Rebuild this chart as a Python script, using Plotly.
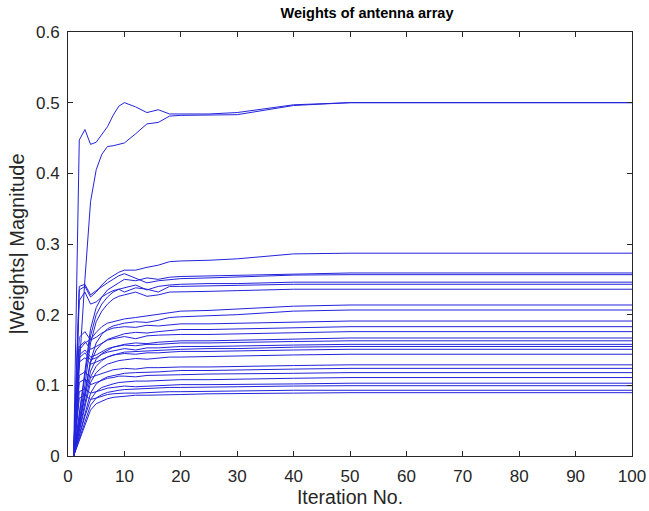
import plotly.graph_objects as go

iterations = [1, 2, 3, 4, 5, 6, 7, 8, 9, 10, 12, 14, 16, 18, 20, 25, 30, 40, 50, 100]

# |weight| magnitude of each antenna element versus iteration
w_a = [0, 0.447, 0.462, 0.441, 0.444, 0.455, 0.466, 0.482, 0.495, 0.500, 0.494, 0.486, 0.490, 0.484, 0.484, 0.484, 0.486, 0.497, 0.500, 0.500]
w_b = [0, 0.13, 0.25, 0.36, 0.405, 0.427, 0.438, 0.439, 0.441, 0.443, 0.456, 0.470, 0.472, 0.481, 0.482, 0.482, 0.483, 0.496, 0.500, 0.500]
w_c = [0, 0.235, 0.24, 0.225, 0.232, 0.242, 0.25, 0.255, 0.26, 0.263, 0.263, 0.267, 0.27, 0.275, 0.276, 0.277, 0.279, 0.286, 0.287, 0.287]
w_d = [0, 0.06, 0.12, 0.18, 0.21, 0.225, 0.235, 0.24, 0.245, 0.25, 0.248, 0.252, 0.25, 0.253, 0.254, 0.255, 0.255, 0.258, 0.259, 0.259]
w_e = [0, 0.24, 0.243, 0.228, 0.234, 0.24, 0.245, 0.25, 0.255, 0.258, 0.252, 0.245, 0.248, 0.25, 0.251, 0.252, 0.253, 0.256, 0.2566, 0.2566]
w_f = [0, 0.055, 0.11, 0.17, 0.2, 0.215, 0.225, 0.232, 0.236, 0.238, 0.242, 0.235, 0.24, 0.242, 0.243, 0.244, 0.244, 0.246, 0.246, 0.246]
w_g = [0, 0.22, 0.232, 0.215, 0.218, 0.225, 0.23, 0.234, 0.236, 0.232, 0.238, 0.236, 0.232, 0.24, 0.24, 0.241, 0.241, 0.243, 0.243, 0.243]
w_h = [0, 0.05, 0.1, 0.16, 0.19, 0.205, 0.215, 0.222, 0.226, 0.228, 0.232, 0.226, 0.228, 0.232, 0.232, 0.233, 0.234, 0.236, 0.236, 0.236]
w_i = [0, 0.15, 0.16, 0.165, 0.175, 0.183, 0.188, 0.19, 0.192, 0.194, 0.196, 0.198, 0.2, 0.203, 0.205, 0.206, 0.208, 0.212, 0.2137, 0.2137]
w_j = [0, 0.045, 0.09, 0.135, 0.16, 0.172, 0.18, 0.184, 0.186, 0.188, 0.19, 0.189, 0.192, 0.196, 0.197, 0.198, 0.2, 0.205, 0.2066, 0.2066]
w_k = [0, 0.168, 0.176, 0.164, 0.168, 0.174, 0.178, 0.181, 0.182, 0.183, 0.182, 0.185, 0.184, 0.186, 0.187, 0.187, 0.188, 0.190, 0.191, 0.191]
w_l = [0, 0.046, 0.092, 0.132, 0.15, 0.159, 0.165, 0.168, 0.171, 0.173, 0.175, 0.174, 0.176, 0.178, 0.179, 0.179, 0.18, 0.182, 0.183, 0.183]
w_m = [0, 0.155, 0.162, 0.151, 0.155, 0.16, 0.164, 0.166, 0.168, 0.169, 0.166, 0.17, 0.171, 0.172, 0.172, 0.172, 0.173, 0.175, 0.176, 0.176]
w_n = [0, 0.042, 0.084, 0.12, 0.137, 0.145, 0.15, 0.154, 0.156, 0.158, 0.16, 0.159, 0.161, 0.162, 0.163, 0.163, 0.164, 0.166, 0.167, 0.167]
w_o = [0, 0.143, 0.15, 0.14, 0.143, 0.148, 0.152, 0.154, 0.156, 0.157, 0.156, 0.158, 0.158, 0.159, 0.16, 0.16, 0.161, 0.162, 0.163, 0.163]
w_p = [0, 0.139, 0.146, 0.136, 0.139, 0.144, 0.147, 0.149, 0.151, 0.152, 0.15, 0.153, 0.153, 0.154, 0.155, 0.155, 0.156, 0.157, 0.158, 0.158]
w_q = [0, 0.039, 0.078, 0.112, 0.127, 0.135, 0.14, 0.143, 0.145, 0.147, 0.148, 0.148, 0.149, 0.15, 0.151, 0.152, 0.152, 0.154, 0.155, 0.155]
w_r = [0, 0.133, 0.139, 0.13, 0.133, 0.137, 0.14, 0.143, 0.144, 0.145, 0.144, 0.146, 0.146, 0.147, 0.148, 0.148, 0.149, 0.15, 0.151, 0.151]
w_s = [0, 0.036, 0.072, 0.104, 0.118, 0.125, 0.13, 0.133, 0.135, 0.136, 0.138, 0.137, 0.139, 0.14, 0.14, 0.141, 0.142, 0.143, 0.144, 0.144]
w_t = [0, 0.114, 0.119, 0.111, 0.114, 0.117, 0.12, 0.122, 0.123, 0.124, 0.123, 0.125, 0.125, 0.126, 0.126, 0.126, 0.127, 0.128, 0.129, 0.129]
w_u = [0, 0.031, 0.062, 0.089, 0.102, 0.108, 0.112, 0.114, 0.116, 0.117, 0.118, 0.118, 0.119, 0.12, 0.121, 0.121, 0.122, 0.123, 0.124, 0.124]
w_v = [0, 0.104, 0.109, 0.101, 0.104, 0.107, 0.11, 0.111, 0.113, 0.113, 0.112, 0.114, 0.114, 0.115, 0.115, 0.116, 0.116, 0.117, 0.118, 0.118]
w_w = [0, 0.028, 0.056, 0.08, 0.091, 0.097, 0.1, 0.102, 0.104, 0.105, 0.106, 0.106, 0.107, 0.108, 0.108, 0.108, 0.109, 0.11, 0.111, 0.111]
w_x = [0, 0.091, 0.095, 0.089, 0.091, 0.094, 0.096, 0.097, 0.098, 0.099, 0.098, 0.099, 0.1, 0.1, 0.101, 0.101, 0.101, 0.102, 0.103, 0.103]
w_y = [0, 0.025, 0.05, 0.072, 0.082, 0.087, 0.09, 0.092, 0.093, 0.094, 0.095, 0.095, 0.096, 0.097, 0.097, 0.097, 0.098, 0.099, 0.0995, 0.0995]
w_z = [0, 0.082, 0.086, 0.08, 0.082, 0.085, 0.087, 0.088, 0.089, 0.089, 0.089, 0.09, 0.09, 0.091, 0.091, 0.091, 0.092, 0.093, 0.093, 0.093]
w_aa = [0, 0.022, 0.045, 0.065, 0.074, 0.078, 0.081, 0.083, 0.084, 0.085, 0.086, 0.086, 0.086, 0.087, 0.087, 0.088, 0.088, 0.089, 0.0896, 0.0896]

weights = [w_a, w_b, w_c, w_d, w_e, w_f, w_g, w_h, w_i, w_j, w_k, w_l, w_m, w_n,
           w_o, w_p, w_q, w_r, w_s, w_t, w_u, w_v, w_w, w_x, w_y, w_z, w_aa]

x_ticks = [0, 10, 20, 30, 40, 50, 60, 70, 80, 90, 100]
y_ticks = [0, 0.1, 0.2, 0.3, 0.4, 0.5, 0.6]
y_tick_text = ["0", "0.1", "0.2", "0.3", "0.4", "0.5", "0.6"]

FONT = "Liberation Sans, Arial, sans-serif"
TXT = "#262626"

fig = go.Figure()
for w in weights:
    fig.add_trace(go.Scatter(x=iterations, y=w, mode="lines",
                             line=dict(color="rgb(35,35,220)", width=1),
                             showlegend=False, hoverinfo="skip"))

axis_common = dict(showline=True, linecolor=TXT, linewidth=1, mirror="allticks",
                   ticks="inside", ticklen=5, tickcolor=TXT, showgrid=False,
                   zeroline=False, automargin=False,
                   tickfont=dict(family=FONT, size=17, color=TXT))

fig.update_layout(
    width=649, height=511,
    margin=dict(l=68, r=17, t=32, b=55),
    paper_bgcolor="white", plot_bgcolor="white",
    title=dict(text="<b>Weights of antenna array</b>", x=367 / 649, xanchor="center",
               y=1 - 13 / 511, yanchor="middle", yref="container",
               font=dict(family=FONT, size=14.5, color="black")),
    xaxis=dict(range=[0, 100], tickvals=x_ticks, ticklabelstandoff=5,
               title=dict(text="Iteration No.", standoff=2,
                          font=dict(family=FONT, size=19.5, color=TXT)),
               **axis_common),
    yaxis=dict(range=[0, 0.6], tickvals=y_ticks, ticktext=y_tick_text, ticklabelstandoff=4,
               title=dict(text="|Weights| Magnitude", standoff=5,
                          font=dict(family=FONT, size=20, color=TXT)),
               **axis_common),
)

fig.write_html("out.html")
